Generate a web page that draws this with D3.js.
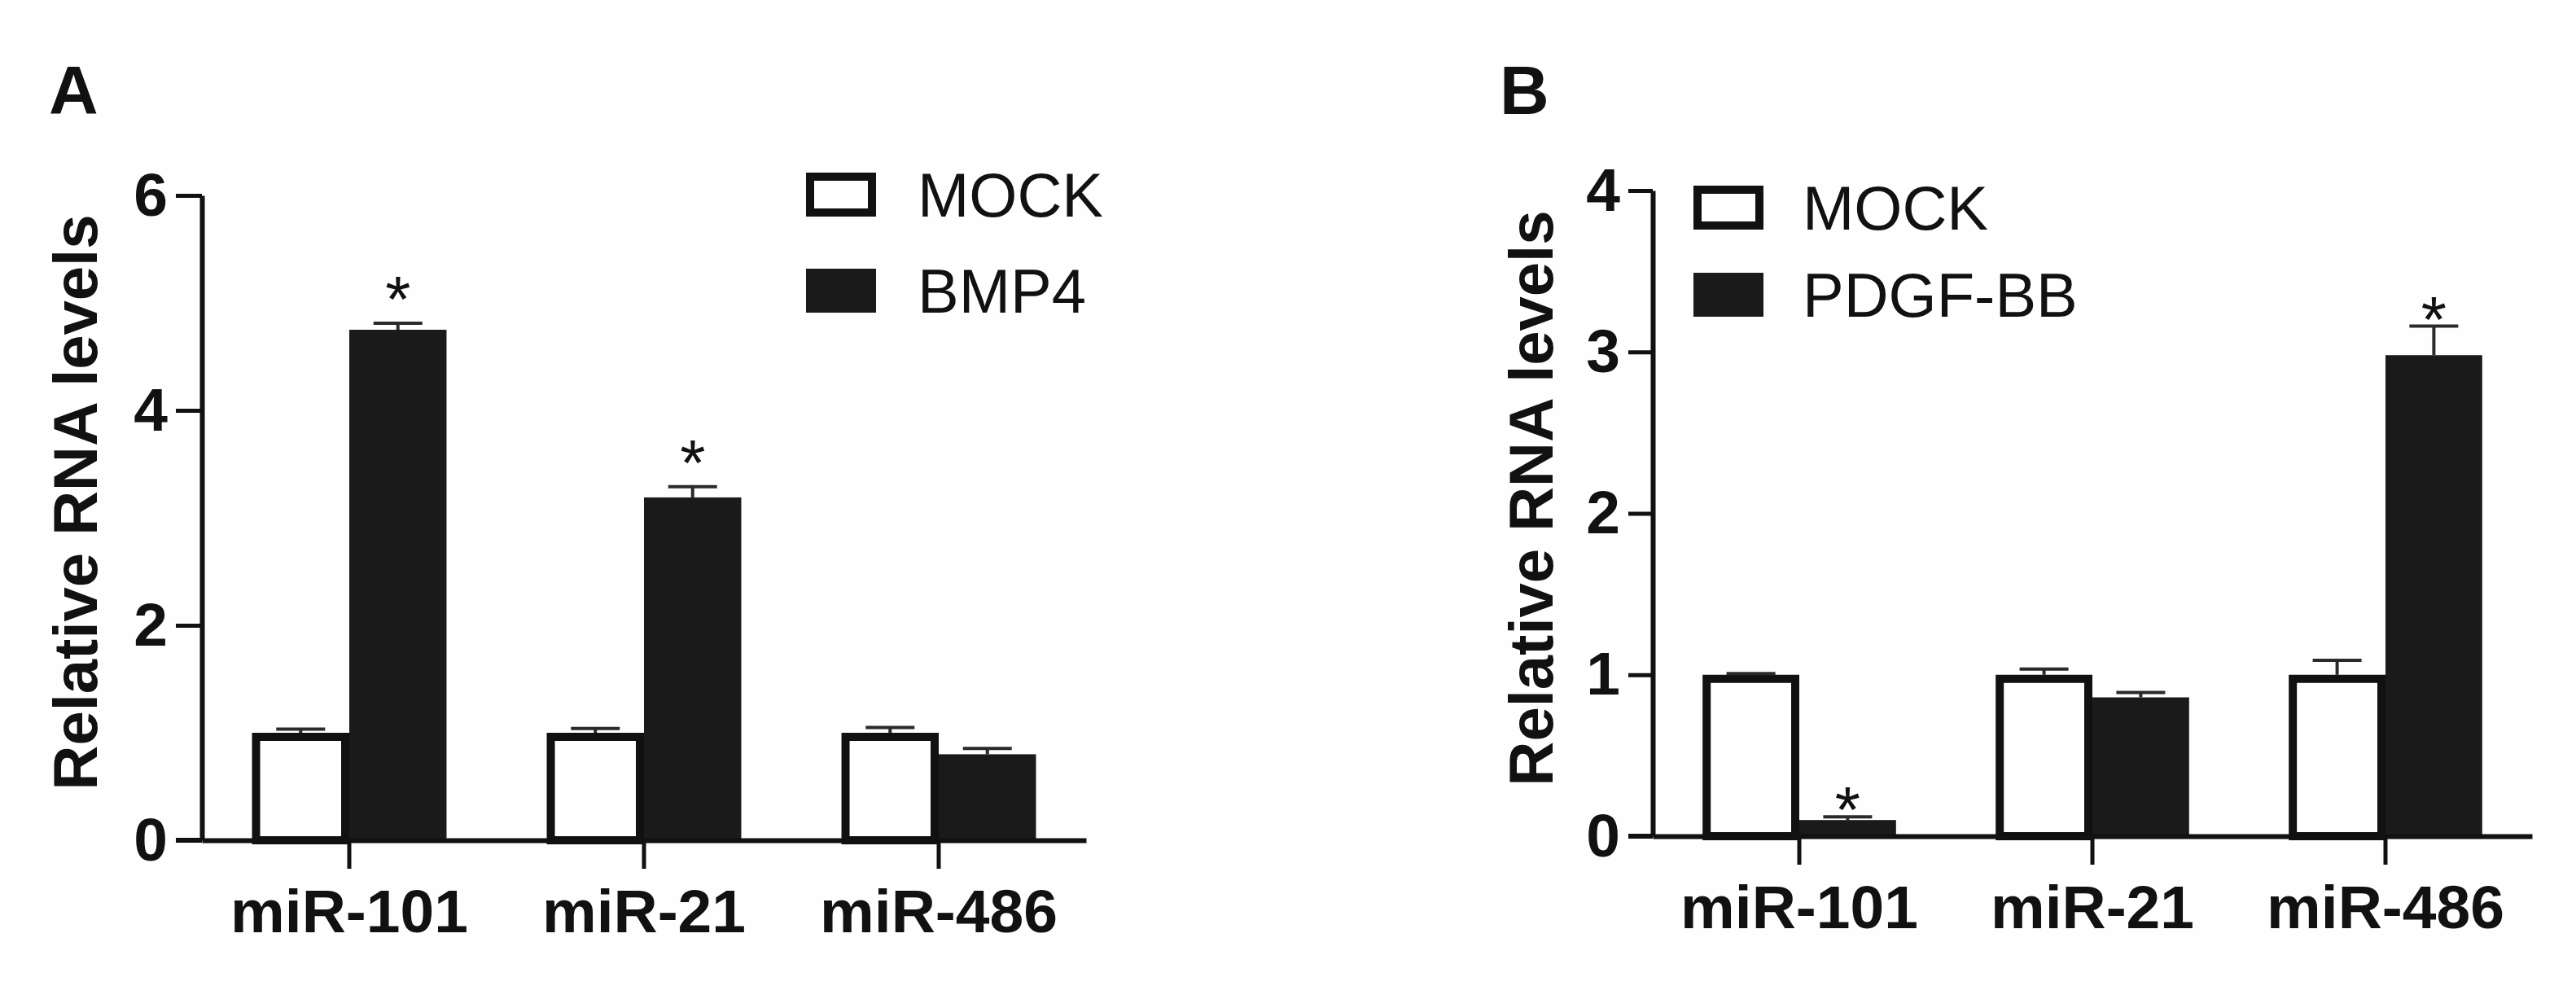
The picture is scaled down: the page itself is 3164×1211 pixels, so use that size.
<!DOCTYPE html>
<html>
<head>
<meta charset="utf-8">
<script src="https://cdn.jsdelivr.net/npm/d3@7"></script>
<style>
  html, body { margin: 0; padding: 0; background: #fefefe; }
  svg { display: block; }
  text { font-family: "Liberation Sans", Arial, Helvetica, sans-serif; fill: #111; }
</style>
</head>
<body>
<div id="chart"></div>
<script>
// ------------------------------------------------------------
// data
// ------------------------------------------------------------
const categories = ['miR-101', 'miR-21', 'miR-486'];

// panel A
const seriesA = ['MOCK', 'BMP4'];
const mockA = [1.0, 1.0, 1.0];
const mockAErr = [0.035, 0.04, 0.05];
const bmp4 = [4.75, 3.19, 0.80];
const bmp4Err = [0.06, 0.10, 0.055];
const ticksA = [0, 2, 4, 6];
const starsA = [[1, 0], [1, 1]];   // [series, category]

// panel B
const seriesB = ['MOCK', 'PDGF-BB'];
const mockB = [1.0, 1.0, 1.0];
const mockBErr = [0.008, 0.035, 0.09];
const pdgf = [0.10, 0.86, 2.98];
const pdgfErr = [0.02, 0.03, 0.18];
const ticksB = [0, 1, 2, 3, 4];
const starsB = [[1, 0], [1, 2]];

const W = 3164, H = 1211;
const INK = '#111';
const BAR_DARK = '#1a1a1a';

const svg = d3.select('#chart').append('svg')
    .attr('width', W)
    .attr('height', H);

svg.append('rect').attr('width', W).attr('height', H).attr('fill', '#fefefe');

// ------------------------------------------------------------
// one panel
// ------------------------------------------------------------
function drawPanel(p) {
    const g = svg.append('g');

    const y = d3.scaleLinear().domain([0, d3.max(p.ticks)]).range([p.y0, p.y1]);
    const x0 = d3.scaleBand().domain(categories).range([p.xL, p.xR])
        .paddingInner(0.34).paddingOuter(0.17);
    const x1 = d3.scaleBand().domain(d3.range(p.series.length)).range([0, x0.bandwidth()]);

    // bars
    const sw = 10;
    p.values.forEach((vals, s) => {
        const grp = g.append('g');
        grp.selectAll('rect')
            .data(vals)
            .join('rect')
            .attr('x', (d, i) => x0(categories[i]) + x1(s) + (s === 0 ? sw / 2 : 0))
            .attr('y', d => y(d) + (s === 0 ? sw / 2 : 0))
            .attr('width', x1.bandwidth() - (s === 0 ? sw : 0))
            .attr('height', d => y(0) - y(d) - (s === 0 ? sw / 2 : 0))
            .attr('fill', s === 0 ? '#fff' : BAR_DARK)
            .attr('stroke', s === 0 ? INK : 'none')
            .attr('stroke-width', sw);

        // error bars (upper only)
        const eb = grp.selectAll('g.err')
            .data(vals.map((v, i) => ({ v, e: p.errors[s][i], i })))
            .join('g').attr('class', 'err');
        const cx = d => x0(categories[d.i]) + x1(s) + x1.bandwidth() / 2;
        eb.append('line')
            .attr('x1', cx).attr('x2', cx)
            .attr('y1', d => y(d.v)).attr('y2', d => y(d.v + d.e))
            .attr('stroke', '#2a2a2a').attr('stroke-width', 4);
        eb.append('line')
            .attr('x1', d => cx(d) - 30).attr('x2', d => cx(d) + 30)
            .attr('y1', d => y(d.v + d.e)).attr('y2', d => y(d.v + d.e))
            .attr('stroke', '#2a2a2a').attr('stroke-width', 4);
    });

    // significance stars
    g.selectAll('text.star')
        .data(p.stars)
        .join('text')
        .attr('class', 'star')
        .attr('x', d => x0(categories[d[1]]) + x1(d[0]) + x1.bandwidth() / 2)
        .attr('y', d => y(p.values[d[0]][d[1]] + p.errors[d[0]][d[1]]) - p.starGap + 46)
        .attr('text-anchor', 'middle')
        .style('font-size', '80px')
        .text('*');

    // y axis
    const yAxis = g.append('g')
        .attr('transform', `translate(${p.xL},0)`)
        .call(d3.axisLeft(y).tickValues(p.ticks).tickFormat(d3.format('d'))
            .tickSize(p.tickLen).tickSizeOuter(0).tickPadding(10));
    // x axis
    const xAxis = g.append('g')
        .attr('transform', `translate(0,${p.y0})`)
        .call(d3.axisBottom(x0).tickSize(35).tickSizeOuter(0).tickPadding(25));

    [yAxis, xAxis].forEach(ax => {
        ax.select('.domain').attr('stroke', INK).attr('stroke-width', 6);
        ax.selectAll('.tick line').attr('stroke', INK).attr('stroke-width', 5);
        ax.selectAll('.tick text')
            .style('font-size', '75px')
            .style('font-weight', 'bold')
            .style('font-family', '"Liberation Sans", Arial, sans-serif')
            .attr('fill', INK);
    });
    // extend x axis baseline to the left end of the 0 tick
    g.append('line')
        .attr('x1', p.xL - p.tickLen).attr('x2', p.xL)
        .attr('y1', p.y0).attr('y2', p.y0)
        .attr('stroke', INK).attr('stroke-width', 6);

    // y title
    g.append('text')
        .attr('transform', `translate(${p.titleX},${p.titleY}) rotate(-90)`)
        .attr('text-anchor', 'middle')
        .style('font-size', '76px')
        .style('font-weight', 'bold')
        .text('Relative RNA levels');

    // panel letter
    g.append('text')
        .attr('x', p.letterX).attr('y', 140)
        .style('font-size', '84px')
        .style('font-weight', 'bold')
        .text(p.letter);

    // legend
    const leg = g.selectAll('g.leg')
        .data(p.series)
        .join('g').attr('class', 'leg')
        .attr('transform', (d, i) => `translate(${p.legX},${p.legY[i]})`);
    leg.append('rect')
        .attr('x', (d, i) => i === 0 ? 5 : 0)
        .attr('y', (d, i) => i === 0 ? 5 : 0)
        .attr('width', (d, i) => i === 0 ? 76 : 86)
        .attr('height', (d, i) => i === 0 ? 44 : 54)
        .attr('fill', (d, i) => i === 0 ? '#fff' : BAR_DARK)
        .attr('stroke', (d, i) => i === 0 ? INK : 'none')
        .attr('stroke-width', 10);
    leg.append('text')
        .attr('x', p.legTextDx)
        .attr('y', 54)
        .style('font-size', '76px')
        .text(d => d);
}

drawPanel({
    letter: 'A', letterX: 60,
    series: seriesA, values: [mockA, bmp4], errors: [mockAErr, bmp4Err],
    ticks: ticksA, stars: starsA, starGap: 48,
    xL: 248, xR: 1334, y0: 1032, y1: 240, tickLen: 32,
    titleX: 119, titleY: 617,
    legX: 990, legY: [212, 330], legTextDx: 137
});

drawPanel({
    letter: 'B', letterX: 1842,
    series: seriesB, values: [mockB, pdgf], errors: [mockBErr, pdgfErr],
    ticks: ticksB, stars: starsB, starGap: 27,
    xL: 2030, xR: 3110, y0: 1027, y1: 234, tickLen: 30,
    titleX: 1907, titleY: 612,
    legX: 2080, legY: [228, 335], legTextDx: 134
});
</script>
</body>
</html>
